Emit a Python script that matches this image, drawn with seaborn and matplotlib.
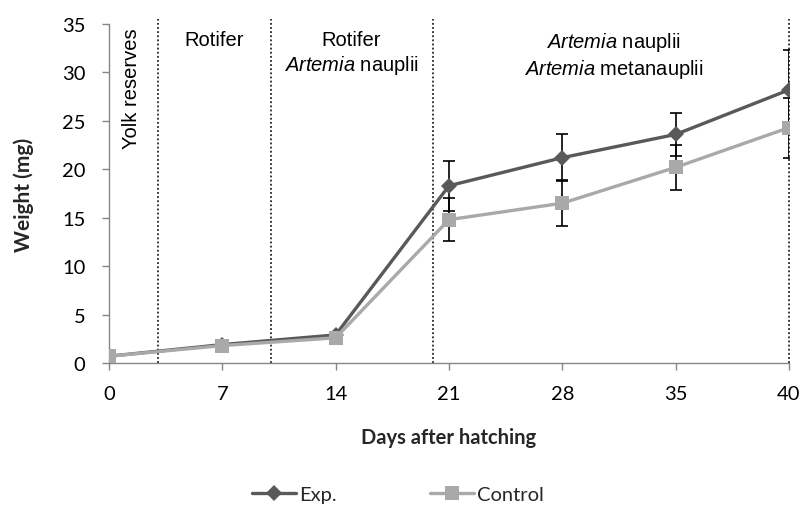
import matplotlib
matplotlib.use("Agg")
import matplotlib.pyplot as plt
import seaborn as sns
import pandas as pd
import numpy as np
from matplotlib.lines import Line2D

days = ["0", "7", "14", "21", "28", "35", "40"]
exp_weight = [0.7, 1.9, 2.9, 18.3, 21.2, 23.6, 28.2]
exp_sd = [0.0, 0.0, 0.0, 2.6, 2.4, 2.2, 4.1]
ctrl_weight = [0.7, 1.8, 2.6, 14.8, 16.5, 20.2, 24.3]
ctrl_sd = [0.0, 0.0, 0.0, 2.2, 2.4, 2.3, 3.1]
phase_bounds = [0.43, 1.43, 2.86, 6.0]  # category positions (days 3, 10, 20, 40)

sns.set_theme(style="white")
plt.rcParams['font.family'] = ['Lato', 'DejaVu Sans']
plt.rcParams['mathtext.fontset'] = 'custom'
plt.rcParams['mathtext.rm'] = 'Liberation Sans'
plt.rcParams['mathtext.it'] = 'Liberation Sans:italic'

pos = np.arange(len(days))
df = pd.DataFrame({
    "pos": np.concatenate([pos, pos]),
    "weight": exp_weight + ctrl_weight,
    "group": ["Exp."] * len(days) + ["Control"] * len(days),
})

fig = plt.figure(figsize=(8.05, 5.06), dpi=100)
ax = fig.add_axes([109/805, 1 - 364/506, (789-109)/805, (364-25)/506])

dark = "#595959"
light = "#A9A9A9"
ax.vlines(phase_bounds, 0, 35.5, colors="black", linestyles=[(0, (1.2, 1.5))],
          linewidth=1.1, zorder=1, clip_on=False)

ax.errorbar(pos, exp_weight, yerr=exp_sd, fmt="none", ecolor="black", elinewidth=1.2, capsize=4, capthick=1.2, zorder=2)
ax.errorbar(pos, ctrl_weight, yerr=ctrl_sd, fmt="none", ecolor="black", elinewidth=1.2, capsize=4, capthick=1.2, zorder=2)

sns.lineplot(data=df, x="pos", y="weight", hue="group", style="group",
             palette={"Exp.": dark, "Control": light},
             markers={"Exp.": "D", "Control": "s"}, dashes=False,
             markersize=9, linewidth=2.4, markeredgewidth=0, ax=ax, zorder=3,
             legend=False)
for line, ms in zip(ax.lines[-2:], [8.5, 10.5]):
    line.set_markersize(ms)

ax.set_xlim(0, 6)
ax.set_ylim(0, 35)
ax.set_xticks(pos)
ax.set_xticklabels(days)
ax.set_yticks(range(0, 36, 5))
ax.tick_params(axis="both", labelsize=14.5, colors="#868686", labelcolor="black",
               direction="out", length=5, width=1, bottom=True, left=True)
ax.tick_params(axis="x", pad=11)
ax.tick_params(axis="y", pad=12)
for s in ["top", "right"]:
    ax.spines[s].set_visible(False)
for s in ["left", "bottom"]:
    ax.spines[s].set_color("#868686")
    ax.spines[s].set_linewidth(1)

ax.set_xlabel("Days after hatching", fontsize=14.5, fontweight="bold", labelpad=18)
ax.set_ylabel("Weight (mg)", fontsize=15, fontweight="bold", labelpad=20)

tf = dict(fontsize=14.5, family="Liberation Sans", color="black", va="top", ha="center")
ax.text(0.2, 34.6, "Yolk reserves", rotation=90, **tf)
ax.text(0.93, 34.4, "Rotifer", **tf)
ax.text(2.14, 34.4, "Rotifer\n$\\it{Artemia}$ nauplii", linespacing=1.25, **tf)
ax.text(4.45, 34.4, "$\\it{Artemia}$ nauplii\n$\\it{Artemia}$ metanauplii", linespacing=1.25, **tf)

handles = [Line2D([], [], color=dark, marker="D", markersize=8, lw=2.4, markeredgewidth=0),
           Line2D([], [], color=light, marker="s", markersize=10, lw=2.4, markeredgewidth=0)]
fig.legend(handles, ["Exp.", "Control"], loc="center", bbox_to_anchor=(398/805, 1 - 495/506),
           ncol=2, frameon=False, fontsize=14.5, handlelength=2.2, handletextpad=0.15,
           columnspacing=4.6)

fig.savefig("out.png", dpi=100)
